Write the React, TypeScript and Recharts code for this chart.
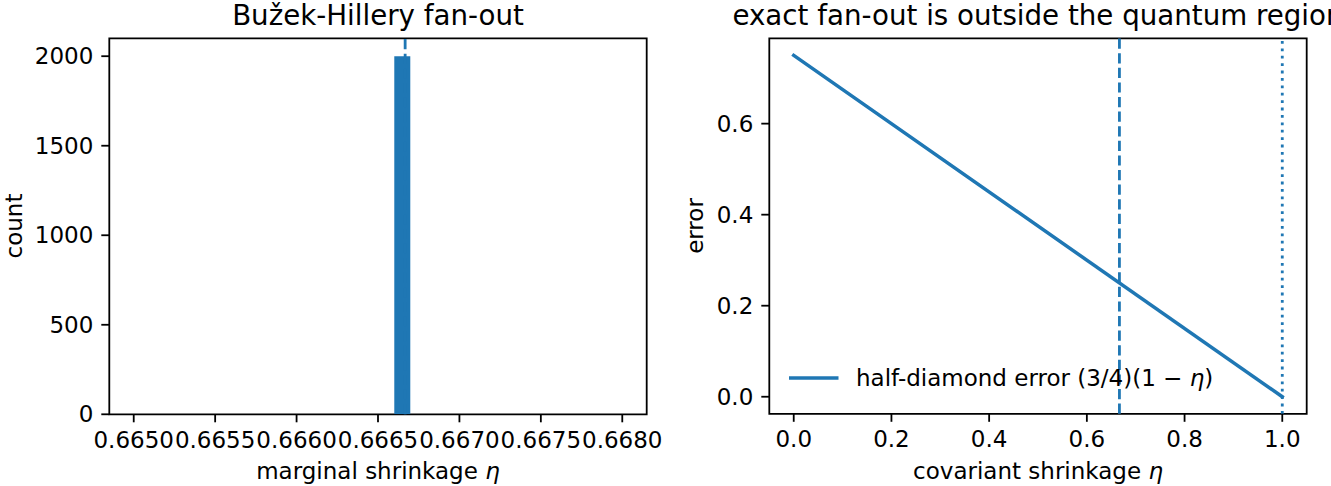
import React from 'react';
import {
  ComposedChart,
  LineChart,
  Bar,
  Line,
  XAxis,
  YAxis,
  ReferenceLine,
  ReferenceArea,
  Legend,
} from 'recharts';

const BLUE = '#1f77b4';
const FONT = '"DejaVu Sans", "Liberation Sans", sans-serif';

// ---- Left panel: histogram of the marginal shrinkage ----
const histBinCenters = [
  0.66505, 0.66515, 0.66525, 0.66535, 0.66545, 0.66555, 0.66565, 0.66575, 0.66585, 0.66595,
  0.66605, 0.66615, 0.66625, 0.66635, 0.66645, 0.66655, 0.66665, 0.66675, 0.66685, 0.66695,
  0.66705, 0.66715, 0.66725, 0.66735, 0.66745, 0.66755, 0.66765, 0.66775, 0.66785, 0.66795,
];
const histCounts = [
  0, 0, 0, 0, 0, 0, 0, 0, 0, 0,
  0, 0, 0, 0, 0, 0, 2000, 0, 0, 0,
  0, 0, 0, 0, 0, 0, 0, 0, 0, 0,
];
const leftXTicks = [0.665, 0.6655, 0.666, 0.6665, 0.667, 0.6675, 0.668];
const leftYTicks = [0, 500, 1000, 1500, 2000];
const leftXDomain = [0.66485, 0.66815];
const leftYDomain = [0, 2100];
const buzekHilleryEta = 2 / 3;

// ---- Right panel: half-diamond error vs covariant shrinkage ----
const covEta = [0, 1];
const covError = [0.75, 0];
const rightXTicks = [0, 0.2, 0.4, 0.6, 0.8, 1.0];
const rightYTicks = [0, 0.2, 0.4, 0.6];
const rightXDomain = [-0.05, 1.05];
const rightYDomain = [-0.0375, 0.7875];
const exactEta = 1;

const histData = histBinCenters.map((x, i) => ({ eta: x, count: histCounts[i] }));
const lineData = covEta.map((x, i) => ({ eta: x, error: covError[i] }));

const tickStyle = { fontFamily: FONT, fontSize: 23, fill: '#000', stroke: 'none' };
const tickLineStyle = { stroke: '#000', strokeWidth: 1.8 };

const legendContent = () => (
  <svg width={430} height={30} style={{ overflow: 'visible', display: 'block' }}>
    <line x1={1.75} y1={15} x2={47.75} y2={15} stroke={BLUE} strokeWidth={3.5} strokeLinecap="square" />
    <text x={67} y={15} dy="0.355em" fontFamily={FONT} fontSize={23} fill="#000">
      half-diamond error (3/4)(1 − <tspan fontStyle="italic">η</tspan>)
    </text>
  </svg>
);

export default function App() {
  return (
    <div
      style={{
        position: 'absolute',
        left: 0,
        top: 0,
        width: 1331,
        height: 486,
        overflow: 'hidden',
        background: '#fff',
      }}
    >
      <div style={{ position: 'absolute', left: 0, top: 0 }}>
        <ComposedChart
          width={690}
          height={486}
          data={histData}
          margin={{ top: 38.3, right: 43.3, bottom: 0, left: 0 }}
          barCategoryGap={0}
          barGap={0}
        >
          <XAxis
            dataKey="eta"
            type="number"
            domain={leftXDomain}
            allowDataOverflow
            ticks={leftXTicks}
            interval={0}
            tickFormatter={(v: number) => v.toFixed(4)}
            tick={tickStyle}
            tickLine={tickLineStyle}
            axisLine={false}
            tickSize={8}
            tickMargin={9}
            height={71.7}
          />
          <YAxis
            type="number"
            domain={leftYDomain}
            allowDataOverflow
            ticks={leftYTicks}
            interval={0}
            tick={tickStyle}
            tickLine={tickLineStyle}
            axisLine={false}
            tickSize={8}
            tickMargin={8}
            width={109.3}
          />
          <Bar dataKey="count" fill={BLUE} isAnimationActive={false} />
          <ReferenceLine
            x={buzekHilleryEta}
            stroke={BLUE}
            strokeWidth={2.8}
            strokeDasharray="10.2 4.4"
            ifOverflow="visible"
          />
          <ReferenceArea
            x1={leftXDomain[0]}
            x2={leftXDomain[1]}
            y1={leftYDomain[0]}
            y2={leftYDomain[1]}
            fill="none"
            fillOpacity={0}
            stroke="#000"
            strokeWidth={1.8}
            ifOverflow="visible"
          />
        </ComposedChart>
      </div>

      <div style={{ position: 'absolute', left: 660, top: 0 }}>
        <LineChart
          width={671}
          height={486}
          data={lineData}
          margin={{ top: 38.3, right: 24.3, bottom: 0, left: 0 }}
        >
          <XAxis
            dataKey="eta"
            type="number"
            domain={rightXDomain}
            allowDataOverflow
            ticks={rightXTicks}
            interval={0}
            tickFormatter={(v: number) => v.toFixed(1)}
            tick={tickStyle}
            tickLine={tickLineStyle}
            axisLine={false}
            tickSize={8}
            tickMargin={9}
            height={72.2}
          />
          <YAxis
            type="number"
            domain={rightYDomain}
            allowDataOverflow
            ticks={rightYTicks}
            interval={0}
            tickFormatter={(v: number) => v.toFixed(1)}
            tick={tickStyle}
            tickLine={tickLineStyle}
            axisLine={false}
            tickSize={8}
            tickMargin={8}
            width={109.3}
          />
          <Line
            dataKey="error"
            stroke={BLUE}
            strokeWidth={3.5}
            strokeLinecap="square"
            dot={false}
            activeDot={false}
            isAnimationActive={false}
          />
          <ReferenceLine
            x={buzekHilleryEta}
            stroke={BLUE}
            strokeWidth={2.8}
            strokeDasharray="10.2 4.4"
            ifOverflow="visible"
          />
          <ReferenceLine
            x={exactEta}
            stroke={BLUE}
            strokeWidth={2.8}
            strokeDasharray="2.8 4.6"
            ifOverflow="visible"
          />
          <ReferenceArea
            x1={rightXDomain[0]}
            x2={rightXDomain[1]}
            y1={rightYDomain[0]}
            y2={rightYDomain[1]}
            fill="none"
            fillOpacity={0}
            stroke="#000"
            strokeWidth={1.8}
            ifOverflow="visible"
          />
          <Legend
            layout="horizontal"
            verticalAlign="middle"
            align="center"
            content={legendContent}
            wrapperStyle={{ left: 129, top: 363.3, width: 430, height: 30 }}
          />
        </LineChart>
      </div>

      <svg
        width={1331}
        height={486}
        style={{ position: 'absolute', left: 0, top: 0, pointerEvents: 'none' }}
      >
        <g fontFamily={FONT} fill="#000">
          <text x={378} y={24.5} textAnchor="middle" fontSize={27.7}>
            Bužek-Hillery fan-out
          </text>
          <text x={1038} y={24.5} textAnchor="middle" fontSize={27.7}>
            exact fan-out is outside the quantum region
          </text>
          <text x={378} y={479} textAnchor="middle" fontSize={23}>
            marginal shrinkage <tspan fontStyle="italic">η</tspan>
          </text>
          <text x={1038} y={479} textAnchor="middle" fontSize={23}>
            covariant shrinkage <tspan fontStyle="italic">η</tspan>
          </text>
          <text x={21.5} y={226} textAnchor="middle" fontSize={23} transform="rotate(-90 21.5 226)">
            count
          </text>
          <text x={703} y={226} textAnchor="middle" fontSize={23} transform="rotate(-90 703 226)">
            error
          </text>
        </g>
      </svg>
    </div>
  );
}
